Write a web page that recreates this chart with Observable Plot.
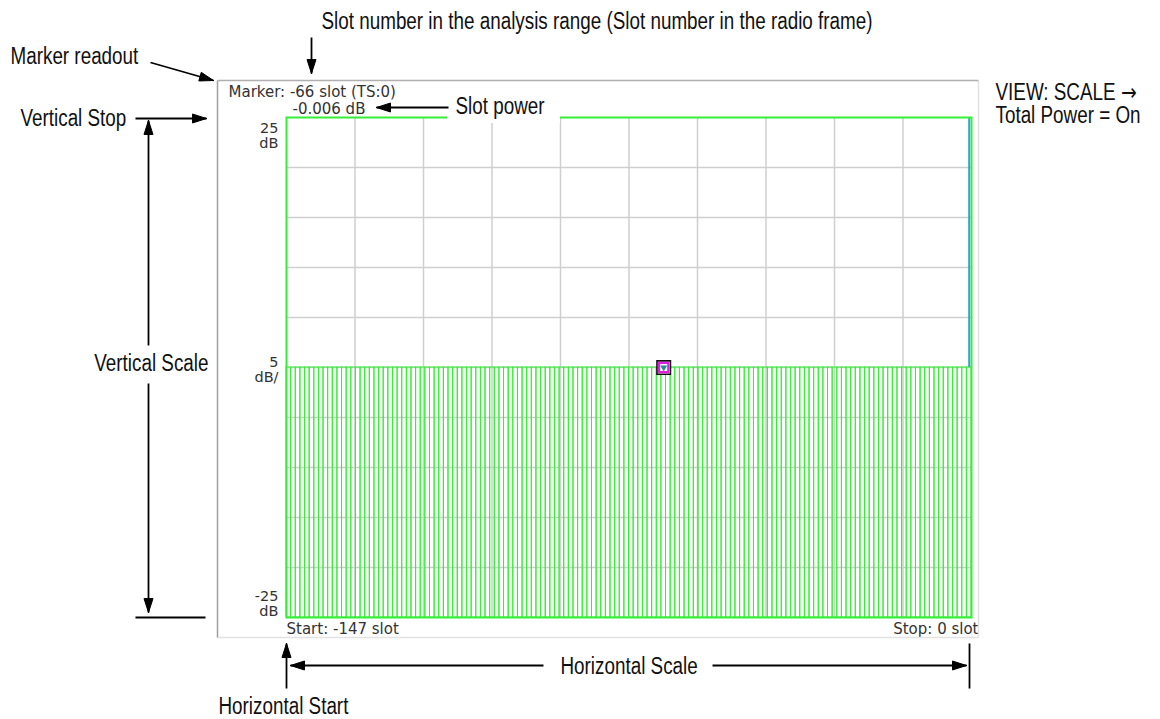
<!DOCTYPE html>
<html><head><meta charset="utf-8">
<script src="https://cdn.jsdelivr.net/npm/d3@7"></script>
<script src="https://cdn.jsdelivr.net/npm/@observablehq/plot@0.6"></script>
<style>
@font-face { font-family: "ArrowGlyph"; src: local("DejaVu Sans"), local("DejaVuSans"); unicode-range: U+2192; }
html,body{margin:0;padding:0;background:#fff;}
#wrap{position:relative;width:1160px;height:719px;overflow:hidden;background:#fff;}
#wrap svg{position:absolute;left:0;top:0;max-width:none;}
</style></head><body><div id="wrap"></div>
<script>
// ---------- data ----------
const slotNumbers = d3.range(-147, 1); // Start: -147 slot ... Stop: 0 slot
const slotPowerDb = [
  0, 0, 0, 0, 0, 0, 0, 0, 0, 0, 0, 0, 0, 0, 0, 0, 0, 0, 0, 0,
  0, 0, 0, 0, 0, 0, 0, 0, 0, 0, 0, 0, 0, 0, 0, 0, 0, 0, 0, 0,
  0, 0, 0, 0, 0, 0, 0, 0, 0, 0, 0, 0, 0, 0, 0, 0, 0, 0, 0, 0,
  0, 0, 0, 0, 0, 0, 0, 0, 0, 0, 0, 0, 0, 0, 0, 0, 0, 0, 0, 0,
  0, -0.006, 0, 0, 0, 0, 0, 0, 0, 0, 0, 0, 0, 0, 0, 0, 0, 0, 0, 0,
  0, 0, 0, 0, 0, 0, 0, 0, 0, 0, 0, 0, 0, 0, 0, 0, 0, 0, 0, 0,
  0, 0, 0, 0, 0, 0, 0, 0, 0, 0, 0, 0, 0, 0, 0, 0, 0, 0, 0, 0,
  0, 0, 0, 0, 0, 0, 0, 0
];
const startSlot = -147, stopSlot = 0;
const markerSlot = -66, markerTimeSlot = 0, markerPowerDb = -0.006;
const totalPowerSlot = [0];
const verticalStartDb = -25, verticalStopDb = 25, verticalScaleDb = 5;
const yLabelValues = [25, 0, -25];
const yLabelTexts = ["25\ndB", "5\ndB/", "-25\ndB"];

const data = slotNumbers.map((s, i) => ({slot: s, power: slotPowerDb[i]}));
const xDomain = [startSlot - 0.5, stopSlot + 0.5];
const xGrid = d3.range(1, 10).map(k => xDomain[0] + k * (xDomain[1] - xDomain[0]) / 10);
const yGrid = d3.range(verticalStartDb + verticalScaleDb, verticalStopDb, verticalScaleDb);

const GREEN = "#36ee36", GRID = "#cfcfcf", SCR = "#333";
const scrFont = "'DejaVu Sans', Verdana, sans-serif";

const main = Plot.plot({
  width: 1160, height: 719,
  marginLeft: 286, marginRight: 189, marginTop: 117, marginBottom: 102,
  x: {domain: xDomain, axis: null},
  y: {domain: [verticalStartDb, verticalStopDb], axis: null},
  style: {background: "transparent", fontFamily: scrFont},
  marks: [
    Plot.ruleX(xGrid, {stroke: GRID, strokeWidth: 1.5}),
    Plot.ruleY(yGrid, {stroke: GRID, strokeWidth: 1.5}),
    Plot.rect(data, {x1: d => d.slot - 0.5, x2: d => d.slot + 0.5, y1: verticalStartDb, y2: "power", stroke: GREEN, fill: "none", strokeWidth: 1}),
    Plot.ruleX(totalPowerSlot, {y1: 0, y2: verticalStopDb, stroke: "#2aa6dc", strokeWidth: 2}),
    Plot.frame({stroke: GREEN, strokeWidth: 2}),
    Plot.text([yLabelValues[0]], {x: xDomain[0], y: d => d, text: () => yLabelTexts[0], textAnchor: "end", lineAnchor: "top", dx: -8, dy: 5, fontSize: 14.5, lineHeight: 1.03, fill: SCR}),
    Plot.text([yLabelValues[1]], {x: xDomain[0], y: d => d, text: () => yLabelTexts[1], textAnchor: "end", lineAnchor: "middle", dx: -8, dy: 2, fontSize: 14.5, lineHeight: 1.03, fill: SCR}),
    Plot.text([yLabelValues[2]], {x: xDomain[0], y: d => d, text: () => yLabelTexts[2], textAnchor: "end", lineAnchor: "bottom", dx: -8, dy: -2, fontSize: 14.5, lineHeight: 1.03, fill: SCR}),
    Plot.text([`Marker: ${markerSlot} slot (TS:${markerTimeSlot})`], {frameAnchor: "top-left", textAnchor: "start", lineAnchor: "bottom", dx: -58, dy: -21, fontSize: 15, fill: SCR}),
    Plot.text([`${markerPowerDb.toFixed(3)} dB`], {frameAnchor: "top-left", textAnchor: "start", lineAnchor: "bottom", dx: 6, dy: -4, fontSize: 15, fill: SCR}),
    Plot.text([`Start: ${startSlot} slot`], {frameAnchor: "bottom-left", textAnchor: "start", lineAnchor: "bottom", dx: 0, dy: 16, fontSize: 15, fill: SCR}),
    Plot.text([`Stop: ${stopSlot} slot`], {frameAnchor: "bottom-right", textAnchor: "end", lineAnchor: "bottom", dx: 7, dy: 16, fontSize: 15, fill: SCR}),
    Plot.dot([markerSlot], {x: d => d, y: markerPowerDb, symbol: "square", r: 7.6, fill: "white", stroke: "#111", strokeWidth: 1.6}),
    Plot.dot([markerSlot], {x: d => d, y: markerPowerDb, symbol: "square", r: 5.2, fill: "none", stroke: "#e01ee0", strokeWidth: 2.2}),
    Plot.dot([markerSlot], {x: d => d, y: markerPowerDb, symbol: "triangle", r: 2.6, fill: "#1f8f8f", rotate: 180})
  ]
});

// ---------- annotation overlay (pixel space) ----------
function hasFont(name) {
  const c = document.createElement("canvas").getContext("2d");
  const s = "Vertical Scale WWmmii 0123";
  c.font = "40px monospace"; const a = c.measureText(s).width;
  c.font = `40px '${name}', monospace`; const b = c.measureText(s).width;
  return Math.abs(a - b) > 0.5;
}
const NARROW = hasFont("Liberation Sans Narrow");
const annFont = NARROW ? "ArrowGlyph, 'Liberation Sans Narrow', sans-serif" : "ArrowGlyph, 'Liberation Sans', Arial, sans-serif";
const annSize = 23;

const annStart = [
  {x: 10, y: 63, t: "Marker readout"},
  {x: 20, y: 125, t: "Vertical Stop"},
  {x: 455, y: 113, t: "Slot power"},
  {x: 995, y: 122, t: "VIEW: SCALE \u2192\nTotal Power = On"},
  {x: 560, y: 673, t: "Horizontal Scale"},
  {x: 218, y: 713, t: "Horizontal Start"}
];
const annEnd = [
  {x: 872, y: 28, t: "Slot number in the analysis range (Slot number in the radio frame)"},
  {x: 208, y: 370, t: "Vertical Scale"}
];
const arrows = [
  {x1: 311, y1: 37, x2: 311, y2: 73},
  {x1: 150, y1: 62, x2: 213, y2: 80},
  {x1: 135, y1: 118, x2: 206, y2: 118},
  {x1: 448, y1: 107, x2: 376, y2: 107},
  {x1: 148, y1: 345, x2: 148, y2: 120},
  {x1: 148, y1: 383, x2: 148, y2: 612},
  {x1: 543, y1: 665, x2: 290, y2: 665},
  {x1: 712, y1: 665, x2: 966, y2: 665},
  {x1: 286, y1: 688, x2: 286, y2: 643}
];
const plainLines = [
  {x1: 135, y1: 617, x2: 205, y2: 617},
  {x1: 969, y1: 643, x2: 969, y2: 688}
];
const heads = arrows.flatMap((a, i) => {
  const dx = a.x2 - a.x1, dy = a.y2 - a.y1, L = Math.hypot(dx, dy);
  const ux = dx / L, uy = dy / L, len = 14, half = 4.5;
  const bx = a.x2 - ux * len, by = a.y2 - uy * len;
  return [
    {id: i, x: a.x2, y: a.y2},
    {id: i, x: bx - uy * half, y: by + ux * half},
    {id: i, x: bx + uy * half, y: by - ux * half},
    {id: i, x: a.x2, y: a.y2}
  ];
});

const overlay = Plot.plot({
  width: 1160, height: 719, margin: 0,
  x: {type: "identity", axis: null}, y: {type: "identity", axis: null},
  style: {background: "transparent", fontFamily: annFont},
  marks: [
    Plot.link([{x1: 217, y1: 637, x2: 978, y2: 637}, {x1: 978, y1: 80, x2: 978, y2: 637}], {x1: "x1", y1: "y1", x2: "x2", y2: "y2", stroke: "#e2e2e2", strokeWidth: 1.5}),
    Plot.link([{x1: 217, y1: 80, x2: 978, y2: 80}], {x1: "x1", y1: "y1", x2: "x2", y2: "y2", stroke: "#b0b0b0", strokeWidth: 1.5}),
    Plot.link([{x1: 217, y1: 80, x2: 217, y2: 637}], {x1: "x1", y1: "y1", x2: "x2", y2: "y2", stroke: "#a0a0a0", strokeWidth: 1.5}),
    Plot.rect([{x1: 447, x2: 560, y1: 111, y2: 123}], {x1: "x1", x2: "x2", y1: "y1", y2: "y2", fill: "white"}),
    Plot.link(arrows, {x1: "x1", y1: "y1", x2: "x2", y2: "y2", stroke: "black", strokeWidth: 1.8}),
    Plot.link(plainLines, {x1: "x1", y1: "y1", x2: "x2", y2: "y2", stroke: "black", strokeWidth: 1.8}),
    Plot.line(heads, {x: "x", y: "y", z: "id", fill: "black", stroke: "black", strokeWidth: 1}),
    Plot.text(annStart, {x: "x", y: "y", text: "t", textAnchor: "start", lineAnchor: "bottom", fontSize: annSize, lineHeight: 0.96, fill: "#111"}),
    Plot.text(annEnd, {x: "x", y: "y", text: "t", textAnchor: "end", lineAnchor: "bottom", fontSize: annSize, fill: "#111"})
  ]
});
if (!NARROW) {
  overlay.querySelectorAll("text").forEach(t => {
    const tr = t.getAttribute("transform");
    if (tr) t.setAttribute("transform", tr + " scale(0.82,1)");
    else {
      const x = +t.getAttribute("x") || 0;
      t.setAttribute("transform", `translate(${x},0) scale(0.82,1) translate(${-x},0)`);
    }
  });
}
const wrap = document.getElementById("wrap");
wrap.appendChild(main);
wrap.appendChild(overlay);
</script></body></html>
